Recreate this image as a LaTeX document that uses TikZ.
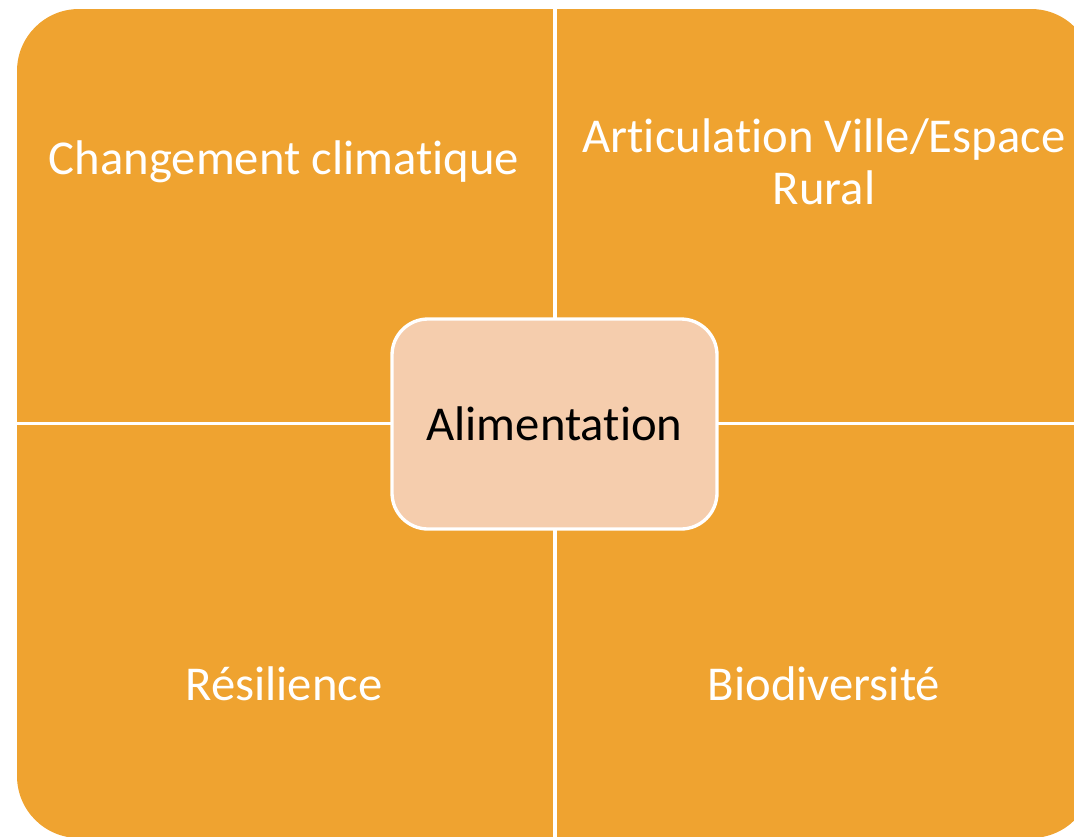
\documentclass[tikz,border=0pt]{standalone}
\usepackage{fontspec}
\setmainfont{Carlito}[Ligatures={NoCommon}]
\definecolor{quadorange}{RGB}{239,163,48}
\definecolor{centerpeach}{RGB}{245,205,173}
\tikzset{
  quadtext/.style={text=white, font=\fontsize{36.5}{39}\selectfont, align=center, inner sep=0pt},
  centerbox/.style={draw=white, line width=2.5pt, fill=centerpeach, rounded corners=27pt,
     minimum width=243.75pt, minimum height=157.5pt, inner sep=0pt,
     font=\fontsize{36.5}{39}\selectfont, text=black},
  divider/.style={draw=white, line width=2.3pt}
}
\begin{document}
\begin{tikzpicture}[x=0.75pt,y=-0.75pt]
\useasboundingbox (0,0) rectangle (1074,836);
\begin{scope}
\clip (0,0) rectangle (1074,836);
\fill[quadorange, rounded corners=46.5pt] (17,9) rectangle (1093,838);
\coordinate (top) at (555,0);
\coordinate (bottom) at (555,840);
\coordinate (left) at (0,423.5);
\coordinate (right) at (1100,423.5);
\draw[divider] (top) -- (bottom);
\draw[divider] (left) -- (right);
\end{scope}
\node[centerbox] (center) at (554.5,424) {Alimentation};
\node[quadtext] (tl) at (284,162) {Changement climatique};
\node[quadtext] (tr) at (824,162) {Articulation Ville/Espace\\Rural};
\node[quadtext] (bl) at (284,684) {Résilience};
\node[quadtext] (br) at (824,684) {Biodiversité};
\end{tikzpicture}
\end{document}
